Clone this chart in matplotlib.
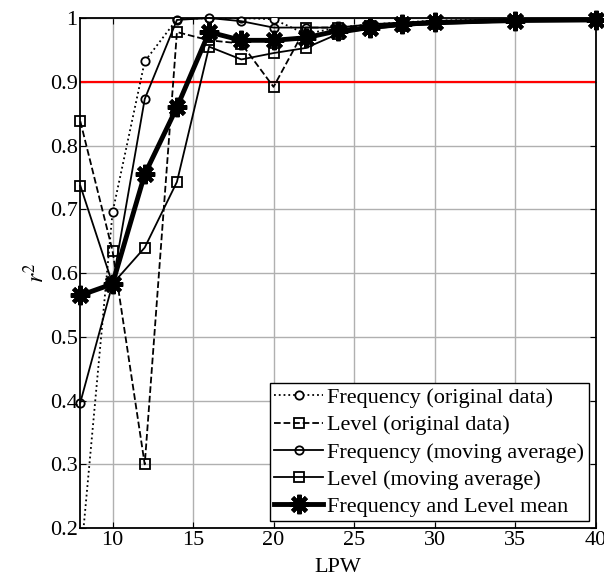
import matplotlib.pyplot as plt

plt.rcParams['font.family'] = ['Liberation Serif', 'DejaVu Serif']
plt.rcParams['mathtext.fontset'] = 'stix'

# LPW values
lpw = [8, 10, 12, 14, 16, 18, 20, 22, 24, 26, 28, 30, 35, 40]

# r^2
freq_orig = [0.145, 0.695, 0.932, 0.998, 1.0, 1.0, 0.998, 0.975, 0.985, 0.99, 0.993, 0.996, 0.998, 0.999]
level_orig = [0.838, 0.635, 0.30, 0.978, 0.965, 0.96, 0.892, 0.985, 0.985, 0.988, 0.99, 0.993, 0.996, 0.998]
freq_ma = [0.397, 0.583, 0.873, 0.997, 1.0, 0.995, 0.985, 0.985, 0.985, 0.99, 0.993, 0.995, 0.997, 0.998]
level_ma = [0.737, 0.583, 0.64, 0.743, 0.955, 0.935, 0.945, 0.953, 0.975, 0.983, 0.988, 0.99, 0.995, 0.997]
mean_fl = [0.565, 0.583, 0.755, 0.86, 0.978, 0.965, 0.965, 0.969, 0.98, 0.985, 0.99, 0.993, 0.996, 0.997]

threshold = 0.9

fig = plt.figure(figsize=(6.04, 5.81), dpi=100)
ax = fig.add_axes([0.133, 0.091, 0.853, 0.878])

ax.axhline(threshold, color='red', lw=1.6, zorder=2)

ax.plot(lpw, freq_orig, ls=':', color='k', lw=1.3, marker='o', ms=6,
        mfc='white', mec='k', mew=1.3, label='Frequency (original data)',
        zorder=3)
ax.plot(lpw, level_orig, ls='--', color='k', lw=1.3, marker='s', ms=7,
        mfc='none', mec='k', mew=1.3, label='Level (original data)',
        zorder=3, clip_on=False)
ax.plot(lpw, freq_ma, ls='-', color='k', lw=1.3, marker='o', ms=6,
        mfc='none', mec='k', mew=1.3, label='Frequency (moving average)',
        zorder=3, clip_on=False)
ax.plot(lpw, level_ma, ls='-', color='k', lw=1.3, marker='s', ms=7,
        mfc='none', mec='k', mew=1.3, label='Level (moving average)',
        zorder=3, clip_on=False)
ax.plot(lpw, mean_fl, ls='-', color='k', lw=3.5, marker=(8, 2, 0), ms=14,
        mec='k', mew=3, label='Frequency and Level mean',
        zorder=4, clip_on=False)

ax.set_xlim(8, 40)
ax.set_ylim(0.2, 1)
ax.set_xticks([10, 15, 20, 25, 30, 35, 40])
ax.set_yticks([0.2, 0.3, 0.4, 0.5, 0.6, 0.7, 0.8, 0.9, 1.0])
ax.set_yticklabels(['0.2', '0.3', '0.4', '0.5', '0.6', '0.7', '0.8', '0.9', '1'])
ax.grid(True, color='#b0b0b0', lw=1)
ax.set_axisbelow(True)
ax.tick_params(direction='in', length=4, labelsize=16, top=True, right=True, pad=2)
for s in ax.spines.values():
    s.set_linewidth(1.3)

ax.set_xlabel('LPW', fontsize=16, labelpad=6)
ax.set_ylabel('$r^2$', fontsize=17, labelpad=0)

leg = ax.legend(loc='lower right', fontsize=16, frameon=True, fancybox=False,
                framealpha=1, edgecolor='k', handlelength=2.2, handletextpad=0.2,
                borderaxespad=0.3, labelspacing=0.3, borderpad=0.2, numpoints=1)
leg.get_frame().set_linewidth(1.0)
leg.set_zorder(10)

fig.savefig('out.png', dpi=100)
